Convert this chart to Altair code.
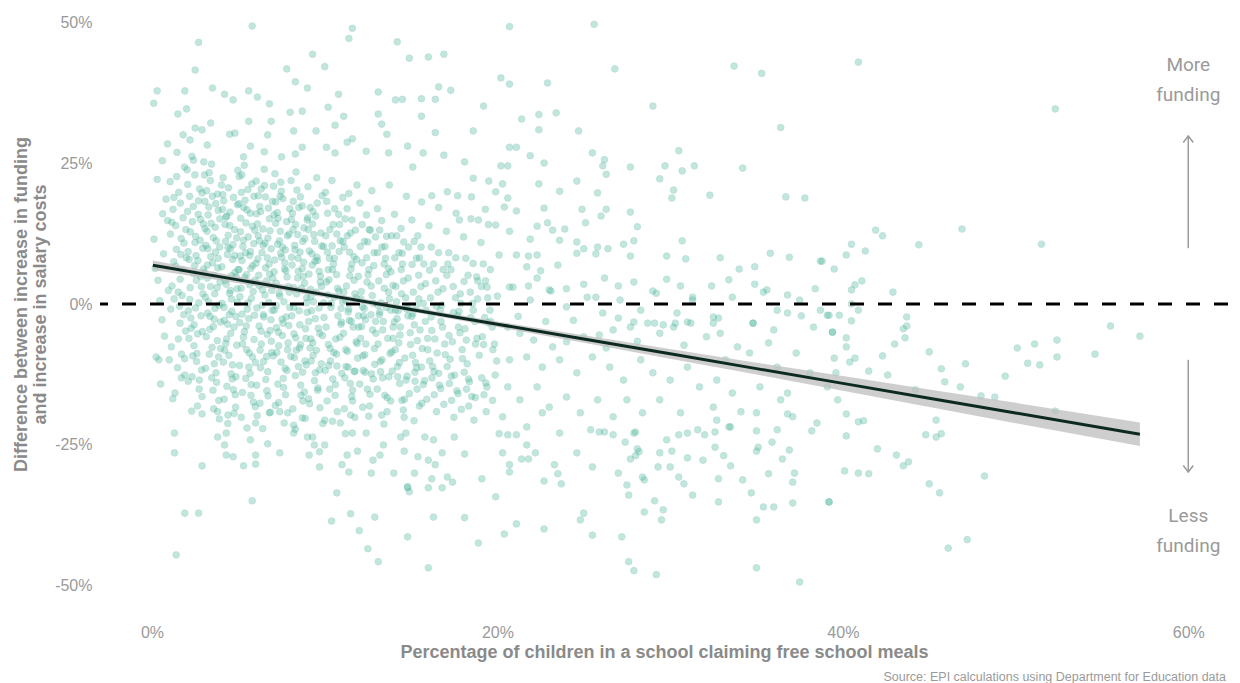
import altair as alt
import pandas as pd

# ---------------- data (percent units) ----------------
upper_points = [
    (5.8,49.3),(11.6,48.9),(11.4,47.1),(2.7,46.4),(14.2,46.5),(14.9,43.6),(9.3,44.3),(10.0,42.1),(7.8,41.7),
    (2.5,41.5),(8.3,39.4),(0.3,37.8),(0.1,35.6),(1.9,37.8),(3.5,38.3),(9.0,38.3),(4.2,37.2),(4.7,36.2),
    (5.6,37.8),(6.1,36.7),(10.8,37.2),(13.1,37.6),(14.1,36.2),(14.5,36.3),(6.8,35.5),(10.2,34.9),(8.0,34.0),
    (8.7,34.2),(11.1,33.3),(1.5,33.7),(2.0,34.6),(3.4,32.1),(5.6,32.4),(6.9,32.4),(13.1,33.7),(13.3,31.9),
    (2.5,31.2),(2.9,30.9),(4.5,30.1),(4.8,30.3),(6.7,30.0),(8.2,30.7),(9.5,30.7),(10.6,31.7),(13.6,30.1),
    (0.9,28.4),(1.8,30.0),(2.2,29.1),(3.2,28.2),(5.7,28.0),(6.5,27.0),(8.3,26.6),(8.7,27.8),(11.3,28.7),
    (11.6,29.3),(12.4,27.1),(13.7,26.8),(14.8,28.0),(10.1,27.8),(10.6,26.8),(0.6,25.4),(2.4,25.5),(3.0,25.2),
    (5.3,26.1),(7.5,26.1),
    (20.7,49.2),(25.6,49.6),(16.0,43.8),(16.9,44.3),(26.8,41.7),(33.7,42.2),(35.3,40.9),(20.2,40.1),
    (20.7,39.0),(22.9,39.2),(16.6,38.5),(17.3,37.9),(15.6,36.4),(16.4,36.3),(19.2,35.1),(29.0,35.1),
    (23.4,33.9),(22.4,33.6),(21.4,32.8),(15.6,33.3),(36.4,31.3),(16.4,30.4),(18.6,30.7),(22.4,30.9),
    (24.7,30.7),(20.7,27.8),(21.1,27.8),(30.5,27.2),(25.5,26.8),(21.9,26.3),(26.2,25.6),(15.7,26.8),
    (16.9,26.4),(18.1,25.2),(22.7,25.0),(40.9,42.9),(52.3,34.6),
]

middle_upper_points = [
    (26.1,24.5),(27.7,24.3),(29.7,24.5),(31.4,24.5),(34.2,24.1),(20.2,24.5),(20.6,24.5),(15.1,24.3),(26.3,23.0),
    (30.7,23.6),(29.4,22.2),(24.6,21.8),(22.4,21.3),(19.5,21.8),(18.6,22.3),(20.3,21.3),(30.2,20.2),(30.1,18.8),
    (32.3,19.3),(36.7,19.0),(37.8,18.8),(25.8,19.7),(23.6,20.0),(19.9,19.9),(17.1,19.9),(17.7,19.2),(18.5,19.0),
    (16.2,19.2),(20.6,18.8),(24.9,16.8),(26.3,16.8),(26.0,15.6),(22.7,17.0),(21.1,16.5),(20.4,17.2),(19.3,16.8),
    (27.7,16.3),(28.1,13.7),(30.7,11.2),(25.1,14.4),(22.9,14.4),(22.3,13.8),(23.2,13.1),(23.9,13.3),(23.6,11.3),
    (21.9,11.5),(20.7,12.9),(19.9,14.0),(17.8,14.9),(18.9,14.9),(24.6,11.0),(25.0,9.8),(25.8,10.1),(26.4,9.8),
    (27.3,10.6),(27.9,11.2),(27.7,8.5),(24.6,9.0),(25.7,8.9),(21.1,8.7),(21.8,8.5),(22.3,8.7),(20.1,8.7),
    (29.8,8.5),(30.9,8.0),(32.9,8.2),(35.8,9.0),(36.9,8.3),(38.7,7.6),(39.5,6.2),(34.0,6.2),(34.9,6.6),
    (33.4,4.3),(32.4,3.2),(34.9,3.5),(35.4,2.1),(36.8,1.6),(38.4,2.7),(29.8,4.4),(29.0,2.3),(30.6,3.2),
    (31.3,1.2),(27.9,3.9),(27.0,3.2),(26.2,4.6),(25.0,3.5),(24.0,2.7),(25.7,1.2),(23.1,2.3),(23.5,6.9),
    (22.5,5.9),(21.7,6.6),(22.3,4.6),(21.8,3.2),(20.7,3.0),(20.0,1.4),(18.8,4.8),(19.4,3.0),
    (36.2,-1.1),(37.6,-2.1),(39.1,-2.0),(34.8,-3.4),(32.5,-3.4),(32.8,-2.5),(31.0,-3.2),(30.3,-3.4),(29.6,-3.7),
    (29.1,-3.4),(27.9,-3.2),(27.0,-2.5),
]

middle_lower_points = [
    (20.6,-4.1),(21.3,-5.2),(22.1,-6.4),(23.2,-7.6),(24.0,-6.7),(25.0,-5.8),(25.9,-5.5),(26.7,-4.6),(27.7,-4.1),
    (28.7,-3.4),(29.4,-5.2),(30.2,-4.1),(31.2,-3.4),(32.1,-5.8),(32.9,-5.2),(33.9,-7.6),(34.8,-3.4),(36.0,-4.6),
    (37.3,-8.7),(38.3,-4.1),(39.4,-5.0),(20.7,-9.9),(21.7,-9.4),(22.6,-11.2),(23.6,-9.9),(24.6,-12.2),
    (25.5,-9.4),(26.5,-11.2),(27.3,-13.5),(28.3,-9.9),(29.0,-12.2),(30.0,-13.5),(31.0,-11.2),(31.7,-14.7),
    (32.7,-13.5),(33.6,-15.8),(34.6,-8.7),(35.2,-14.7),(36.2,-11.2),(36.8,-15.8),(38.1,-12.2),(39.1,-14.7),
    (39.7,-17.0),(20.6,-14.7),(21.3,-17.0),(22.3,-14.7),(23.0,-18.3),(24.0,-16.5),(24.8,-19.3),(25.8,-17.0),
    (26.7,-20.0),(27.5,-17.0),(28.4,-19.3),(29.4,-17.0),(30.6,-19.3),(31.6,-22.3),(32.5,-18.3),(33.5,-21.8),
    (35.0,-19.3),(36.4,-17.0),(37.1,-20.0),(20.3,-20.0),(21.7,-21.8),(22.6,-19.3),(23.6,-22.9),(25.4,-22.3),
    (27.9,-22.9),(29.8,-24.1),
    (20.9,3.0),(21.9,0.7),(23.0,2.5),(24.0,-0.5),(25.2,1.2),(26.1,-1.6),(27.1,0.7),(28.3,-1.1),(29.2,1.9),
    (30.4,-1.6),(31.3,0.7),(32.5,-2.3),(33.6,1.2),(35.6,2.5),(36.8,-1.6),(37.5,0.7),(38.7,-1.1),
    (21.2,-2.2),(22.8,-3.1),(24.4,-2.9),(26.3,-7.8),(28.1,-6.6),(30.8,-7.3),(33.2,-9.9),(35.7,-6.9),
]

right_points = [
    (41.9,13.1),(42.3,12.1),(46.9,13.3),(44.4,10.5),(51.5,10.6),(40.5,10.6),(40.2,8.7),(41.3,9.4),(38.8,7.6),
    (41.1,4.1),(40.7,3.4),(40.5,2.5),(42.9,2.1),(40.5,0.0),(40.9,-1.1),(39.2,-2.0),(39.8,-2.0),(40.5,-3.0),
    (43.7,-2.3),(43.7,-3.9),(55.5,-3.9),(39.4,-5.0),(40.2,-6.0),(40.2,-7.6),(39.5,-9.6),(40.4,-10.3),(40.7,-9.6),
    (39.6,-12.2),(41.5,-11.9),(42.3,-9.2),(43.0,-7.1),(43.5,-4.4),(43.6,-6.0),(42.6,-12.6),(45.0,-8.5),
    (45.7,-11.5),(47.1,-10.6),(45.9,-13.8),(46.8,-14.7),(44.2,-15.2),(48.0,-16.3),(48.8,-16.5),(49.4,-12.8),
    (50.1,-7.8),(51.1,-7.1),(50.7,-10.5),(51.4,-10.8),(52.4,-6.4),(52.4,-9.4),(54.6,-8.9),(57.2,-5.7),
    (52.3,-19.0),(40.2,-19.5),(40.9,-20.9),(41.2,-20.7),(40.2,-23.4),(42.0,-25.7),(45.4,-20.6),(44.8,-23.2),
    (45.4,-23.6),(45.7,-23.0),(43.1,-26.8),(43.8,-28.0),(43.5,-28.7),(40.1,-29.6),(40.9,-30.0),(41.5,-30.1),
    (45.0,-31.9),(45.6,-33.5),(48.2,-30.5),(39.2,-35.1),(47.2,-41.8),(46.1,-43.3),
]

lower_points = [
    (14.8,-41.3),(16.0,-46.8),(18.9,-42.4),(20.4,-40.8),(21.1,-39.0),(22.7,-39.9),(18.1,-37.9),(16.3,-37.8),
    (19.9,-34.2),(25.5,-41.0),(27.2,-41.3),(25.0,-37.1),(24.8,-38.3),(27.6,-45.7),(27.9,-47.3),(29.2,-48.0),
    (28.5,-36.9),(29.1,-34.9),(29.6,-36.5),(29.5,-38.3),(27.6,-33.9),(27.5,-32.1),(27.0,-30.0),(28.5,-31.2),
    (28.4,-30.7),(31.3,-33.9),(30.8,-31.9),(30.5,-30.7),(32.8,-35.1),(35.0,-38.3),(35.0,-46.8),(37.5,-49.3),
    (34.7,-33.5),(35.4,-36.0),(36.0,-36.0),(37.1,-35.3),(39.2,-35.1),(35.7,-30.1),(34.2,-31.2),(33.5,-28.7),
    (32.8,-31.0),(37.2,-30.0),(37.1,-31.6),(36.5,-27.5),(36.9,-25.9),(35.0,-26.1),(35.1,-25.4),(35.9,-24.5),
    (36.2,-22.3),(35.0,-22.5),(38.2,-22.5),(38.5,-21.1),(36.8,-19.5),(34.1,-19.1),(33.4,-21.8),(32.7,-20.6),
    (32.6,-22.7),(32.0,-23.2),(31.0,-22.9),(30.5,-23.2),(33.1,-26.9),(32.6,-25.4),(31.9,-27.7),(31.0,-27.3),
    (30.1,-26.1),(29.4,-26.4),(30.0,-28.9),(29.3,-28.9),(28.0,-26.9),(27.7,-27.5),(28.2,-26.2),(28.1,-25.7),
    (28.0,-22.7),(27.4,-24.5),(26.7,-23.2),(26.2,-22.7),(25.9,-22.7),(25.5,-28.9),(24.6,-26.4),(23.7,-31.9),
    (23.3,-28.5),(23.5,-30.1),(22.7,-31.4),(22.2,-26.4),(21.8,-27.5),(21.4,-27.5),(20.7,-29.8),(20.7,-28.5),
    (19.1,-31.0),(20.3,-26.4),(20.1,-23.0),(20.6,-23.2),(21.1,-23.2),(21.7,-25.0),(18.1,-26.6),(17.4,-31.6),
    (17.1,-30.7),(16.8,-32.6),(16.0,-32.6),(16.2,-31.0),(15.2,-30.0),(14.8,-32.6),(14.9,-33.3),(15.4,-27.1),
    (16.0,-27.7),(16.4,-28.5),(16.8,-26.4),(14.6,-26.1),(17.5,-23.6),(16.3,-24.1),(15.8,-23.6),
    (1.4,-44.5),(1.9,-37.1),(2.7,-37.1),(5.8,-34.9),(10.7,-33.5),(10.4,-38.5),(11.5,-37.2),(12.0,-40.2),
    (12.9,-37.8),(12.5,-43.4),(13.1,-45.7),(14.8,-32.4),(1.3,-22.9),(1.3,-26.4),(1.2,-16.8),(2.9,-28.7),
    (5.3,-28.7),(6.0,-28.4),(4.3,-26.8),(4.7,-27.1),(6.0,-26.8),(7.4,-26.4),(6.7,-24.8),(5.7,-24.1),(4.2,-25.0),
    (3.8,-23.6),(4.3,-22.9),(9.7,-28.9),(9.1,-26.8),(9.7,-26.2),(10.0,-25.0),(11.0,-28.5),(11.4,-29.8),
    (11.3,-26.8),(11.9,-26.1),(12.7,-30.0),(14.0,-30.0),(12.8,-27.7),(13.2,-26.8),(13.4,-25.0),(11.2,-23.0),
    (11.6,-22.9),(12.4,-22.9),(14.4,-23.6),(14.7,-22.9),(9.4,-25.0),(8.2,-22.9),(8.3,-22.2),(9.0,-23.6),
    (9.3,-23.6),(0.4,-9.9),(1.0,-9.9),(2.1,-13.7),(1.7,-13.1),(2.3,-19.0),(2.9,-19.5),(3.8,-19.1),(4.4,-19.7),
    (5.5,-22.0),(6.0,-21.1),(6.8,-19.3),(7.4,-19.1),(8.2,-21.5),(8.7,-20.2),(10.0,-20.6),(10.9,-21.1),
    (11.5,-19.7),(12.2,-18.3),(13.3,-19.7),
]

core_points = [
    (0.12,11.5),(0.35,4.2),(0.58,-2.8),(0.81,18.6),(0.24,-9.4),(0.67,8.9),(0.45,0.6),(0.9,14.8),(0.3,22.1),
    (0.72,-5.7),(0.5,-14.2),(0.18,6.3),(0.95,2.4),(0.62,16.0),
    (1.05,21.7),(1.22,16.8),(1.41,9.7),(1.63,4.4),(1.84,-1.9),(1.12,-7.6),(1.37,13.9),(1.55,19.8),(1.76,6.1),
    (1.95,-4.8),(1.28,0.9),(1.48,-11.3),(1.69,11.6),(1.88,24.3),(1.16,3.2),(1.33,-15.8),(1.59,-0.4),(1.8,15.3),
    (1.99,8.2),(1.45,26.9),(1.07,12.4),(1.71,-8.9),(1.26,7.5),(1.9,-12.6),(1.52,2.1),(1.64,17.9),
    (2.03,23.8),(2.18,19.1),(2.34,14.6),(2.49,10.9),(2.66,7.7),(2.82,4.9),(2.95,1.8),(2.11,-1.2),(2.27,-4.3),
    (2.43,-7.4),(2.58,-10.2),(2.74,-13.5),(2.9,-16.4),(2.07,21.2),(2.22,12.8),(2.39,17.3),(2.55,8.6),(2.71,0.2),
    (2.86,3.1),(2.14,-6.1),(2.31,26.2),(2.47,6.8),(2.63,-18.1),(2.79,11.3),(2.97,14.2),(2.25,-2.5),(2.41,5.4),
    (2.6,-8.8),(2.76,20.4),(2.92,-4.9),(2.09,9.3),(2.52,-0.7),(2.68,15.9),(2.87,-11.7),
    (3.04,22.9),(3.16,20.1),(3.29,17.2),(3.42,14.3),(3.55,11.8),(3.68,9.2),(3.81,6.4),(3.94,3.9),(3.09,1.2),
    (3.22,-1.6),(3.35,-4.5),(3.48,-7.7),(3.61,-10.6),(3.74,-13.9),(3.87,-17.1),(3.12,10.4),(3.25,15.8),
    (3.38,21.9),(3.51,7.3),(3.64,-0.8),(3.77,2.9),(3.9,-20.4),(3.06,18.2),(3.19,12.9),(3.32,-8.9),(3.45,24.8),
    (3.58,5.1),(3.71,-12.2),(3.84,16.6),(3.97,-3.2),(3.14,-5.8),(3.27,0.4),(3.4,8.4),(3.53,-15.3),(3.66,13.6),
    (3.79,19.5),(3.92,10.1),(3.2,4.6),(3.6,-2.7),(3.86,-9.4),
    (4.02,21.1),(4.15,18.3),(4.28,15.4),(4.41,12.2),(4.54,9.8),(4.67,7.9),(4.8,5.6),(4.93,2.7),(4.06,0.1),
    (4.19,-2.9),(4.32,-6.2),(4.45,-9.1),(4.58,-12.4),(4.71,-15.2),(4.84,-18.3),(4.97,23.7),(4.1,19.4),
    (4.23,14.1),(4.36,8.8),(4.49,1.9),(4.62,-1.3),(4.75,-4.1),(4.88,4.8),(4.13,-10.3),(4.26,11.1),(4.39,-21.2),
    (4.52,16.3),(4.65,-13.3),(4.78,13.2),(4.91,-7.3),(4.04,6.6),(4.17,-0.6),(4.3,3.5),(4.43,20.6),(4.56,-5.2),
    (4.69,10.5),(4.82,-16.1),(4.95,17.6),(4.21,-8.2),(4.6,0.9),(4.85,-2.2),(4.34,-14.6),
    (5.05,22.6),(5.18,19.8),(5.31,17.1),(5.44,14.4),(5.57,11.9),(5.7,9.3),(5.83,6.8),(5.96,4.2),(5.09,1.3),
    (5.22,-1.8),(5.35,-4.9),(5.48,-8.1),(5.61,-11.2),(5.74,-14.3),(5.87,-17.4),(5.13,15.2),(5.26,10.2),
    (5.39,18.4),(5.52,-0.9),(5.65,3.4),(5.78,21.3),(5.91,-6.3),(5.04,6.1),(5.17,-20.1),(5.3,11.3),(5.43,-13.2),
    (5.56,0.2),(5.69,16.1),(5.82,-9.4),(5.95,13.1),(5.08,-3.3),(5.21,7.7),(5.34,24.6),(5.47,5.2),(5.6,-2.6),
    (5.73,-16.2),(5.86,2.2),(5.99,-10.4),(5.25,-7.1),(5.66,8.6),(5.12,12.8),(5.9,19.1),
    (6.03,21.8),(6.16,19.2),(6.29,16.4),(6.42,13.3),(6.55,10.8),(6.68,8.2),(6.81,5.3),(6.94,2.4),(6.07,-0.7),
    (6.2,-3.9),(6.33,-7.1),(6.46,-10.2),(6.59,-13.4),(6.72,-16.3),(6.85,-19.2),(6.11,14.2),(6.24,17.3),
    (6.37,9.1),(6.5,23.9),(6.63,4.1),(6.76,0.3),(6.89,-2.8),(6.02,7.2),(6.15,12.1),(6.28,-11.3),(6.41,-22.1),
    (6.54,1.6),(6.67,-5.4),(6.8,15.1),(6.93,-8.6),(6.06,-14.4),(6.19,3.3),(6.32,20.4),(6.45,-1.9),(6.58,6.4),
    (6.71,11.7),(6.84,-4.7),(6.97,18.2),(6.25,-17.6),(6.64,-9.3),(6.9,9.8),(6.38,-0.2),
    (7.04,20.9),(7.17,18.1),(7.3,15.2),(7.43,12.9),(7.56,10.1),(7.69,7.3),(7.82,4.8),(7.95,2.1),(7.08,-1.1),
    (7.21,-4.2),(7.34,-7.4),(7.47,-10.3),(7.6,-13.2),(7.73,-16.1),(7.86,-19.3),(7.12,23.1),(7.25,16.2),
    (7.38,11.2),(7.51,8.3),(7.64,0.4),(7.77,-2.3),(7.9,3.1),(7.03,-9.2),(7.16,14.3),(7.29,-14.2),(7.42,19.1),
    (7.55,-5.6),(7.68,6.2),(7.81,-11.8),(7.94,12.4),(7.07,5.7),(7.2,-0.3),(7.33,-17.5),(7.46,21.6),(7.59,-3.4),
    (7.72,9.6),(7.85,-8.1),(7.98,16.9),(7.4,1.4),(7.65,-21.1),
    (8.05,21.9),(8.18,18.2),(8.31,14.1),(8.44,12.3),(8.57,9.2),(8.7,6.3),(8.83,3.7),(8.96,1.1),(8.09,-2.1),
    (8.22,-5.3),(8.35,-8.2),(8.48,-11.1),(8.61,-14.4),(8.74,-17.2),(8.87,-20.3),(8.13,16.1),(8.26,10.4),
    (8.39,20.2),(8.52,-1.2),(8.65,2.8),(8.78,7.4),(8.91,-6.1),(8.04,-9.3),(8.17,13.2),(8.3,-12.7),(8.43,4.6),
    (8.56,-3.7),(8.69,17.4),(8.82,-15.6),(8.95,0.2),(8.08,8.3),(8.21,-0.6),(8.34,23.4),(8.47,5.8),(8.6,-7.2),
    (8.73,11.1),(8.86,-10.1),(8.99,14.9),
    (9.03,20.8),(9.16,17.1),(9.29,14.2),(9.42,11.1),(9.55,8.3),(9.68,5.8),(9.81,3.1),(9.94,0.2),(9.07,-3.1),
    (9.2,-6.2),(9.33,-9.1),(9.46,-12.2),(9.59,-15.3),(9.72,-18.4),(9.85,19.2),(9.11,9.4),(9.24,-1.2),(9.37,12.3),
    (9.5,2.1),(9.63,-4.3),(9.76,4.9),(9.89,-21.2),(9.02,15.3),(9.15,-7.8),(9.28,6.9),(9.41,-13.6),(9.54,22.4),
    (9.67,-0.7),(9.8,-10.6),(9.93,10.2),(9.06,-16.8),(9.19,1.3),(9.32,16.4),(9.45,-2.6),(9.58,7.7),(9.71,-5.2),
    (10.04,19.8),(10.17,16.1),(10.3,13.2),(10.43,10.3),(10.56,8.1),(10.69,5.2),(10.82,2.3),(10.95,-0.8),
    (10.08,-4.1),(10.21,-7.2),(10.34,-10.1),(10.47,-13.3),(10.6,-16.2),(10.73,-19.1),(10.86,14.1),(10.12,18.2),
    (10.25,4.3),(10.38,0.1),(10.51,7.1),(10.64,-6.2),(10.77,-2.1),(10.9,11.2),(10.03,-11.8),(10.16,9.2),
    (10.29,-15.1),(10.42,21.9),(10.55,1.2),(10.68,-8.9),(10.81,15.9),(10.94,-3.6),(10.2,6.1),(10.45,-20.8),
    (10.7,12.4),(10.99,-12.3),
    (11.05,18.9),(11.18,15.1),(11.31,12.1),(11.44,9.2),(11.57,7.1),(11.7,4.2),(11.83,1.1),(11.96,-2.1),
    (11.09,-5.2),(11.22,-8.1),(11.35,-11.2),(11.48,-14.1),(11.61,-17.2),(11.74,-20.1),(11.87,21.1),(11.13,10.1),
    (11.26,3.2),(11.39,-0.9),(11.52,6.2),(11.65,-4.1),(11.78,13.1),(11.91,-9.6),(11.04,0.4),(11.17,-13.1),
    (11.3,16.9),(11.43,-2.9),(11.56,-16.4),(11.69,8.4),(11.82,-6.7),(11.95,4.9),(11.4,19.6),(11.75,-11.9),
    (12.04,17.9),(12.17,14.1),(12.3,11.1),(12.43,8.2),(12.56,6.1),(12.69,3.2),(12.82,0.1),(12.95,-3.1),
    (12.08,-6.1),(12.21,-9.2),(12.34,-12.1),(12.47,-15.1),(12.6,-18.1),(12.73,20.1),(12.86,9.1),(12.12,2.2),
    (12.25,-2.1),(12.38,-7.1),(12.51,5.2),(12.64,13.1),(12.77,-4.6),(12.9,-10.7),(12.03,-14.2),(12.16,7.3),
    (12.29,-0.8),(12.42,15.8),(12.55,-19.9),(12.68,-1.9),(12.81,-13.3),(12.94,11.9),
    (13.05,16.9),(13.18,13.1),(13.31,10.1),(13.44,7.1),(13.57,5.2),(13.7,2.1),(13.83,-1.1),(13.96,-4.1),
    (13.09,-7.1),(13.22,-10.2),(13.35,-13.1),(13.48,-16.2),(13.61,-19.1),(13.74,21.1),(13.87,12.1),(13.13,4.1),
    (13.26,0.2),(13.39,-3.1),(13.52,8.1),(13.65,-6.1),(13.78,-8.8),(13.91,-11.9),(13.04,-15.1),(13.17,-1.9),
    (13.3,14.8),(13.43,-21.3),(13.56,-0.6),(13.69,6.3),(13.82,-17.2),(13.95,3.3),
    (14.04,15.9),(14.17,12.1),(14.3,9.1),(14.43,6.1),(14.56,4.1),(14.69,1.1),(14.82,-2.1),(14.95,-5.1),
    (14.08,-8.1),(14.21,-11.1),(14.34,-14.1),(14.47,-17.1),(14.6,-20.1),(14.73,19.1),(14.86,10.1),(14.12,3.1),
    (14.25,-1.2),(14.38,-4.1),(14.51,7.1),(14.64,-9.6),(14.77,-12.8),(14.9,-15.9),(14.03,-3.2),(14.16,0.4),
    (14.29,-6.9),(14.42,13.4),(14.55,-18.8),(14.81,-0.4),
    (15.05,14.9),(15.18,11.1),(15.31,8.1),(15.44,5.1),(15.57,3.1),(15.7,0.1),(15.83,-3.1),(15.96,-6.1),
    (15.09,-9.1),(15.22,-12.1),(15.35,-15.1),(15.48,-18.1),(15.61,18.1),(15.74,7.1),(15.87,-1.1),(15.13,2.1),
    (15.26,-10.4),(15.39,12.1),(15.52,-4.6),(15.65,-7.9),(15.78,-13.6),(15.91,-16.9),(15.04,-2.2),(15.17,-20.7),
    (15.3,-0.3),(15.6,-11.2),
    (16.04,13.9),(16.17,10.1),(16.3,7.1),(16.43,4.1),(16.56,2.1),(16.69,-1.1),(16.82,-4.1),(16.95,-7.1),
    (16.08,-10.1),(16.21,-13.1),(16.34,-16.1),(16.47,-19.1),(16.6,17.1),(16.73,-3.1),(16.86,6.1),(16.12,1.1),
    (16.25,-11.1),(16.38,-6.2),(16.51,-8.7),(16.64,-14.4),(16.77,-0.2),(16.9,-17.8),(16.16,-2.3),(16.6,-12.3),
    (17.05,12.9),(17.18,9.1),(17.31,6.1),(17.44,3.1),(17.57,1.1),(17.7,-2.1),(17.83,-5.1),(17.96,-8.1),
    (17.09,-11.1),(17.22,-14.1),(17.35,-17.1),(17.48,-20.1),(17.61,16.1),(17.74,-4.1),(17.87,0.1),(17.13,7.1),
    (17.26,-9.8),(17.39,-6.7),(17.52,-12.6),(17.65,-15.4),(17.78,-1.3),(17.91,-18.7),
    (18.04,11.9),(18.17,8.1),(18.3,5.1),(18.43,2.1),(18.56,0.1),(18.69,-3.1),(18.82,-6.1),(18.95,-9.1),
    (18.08,-12.1),(18.21,-15.1),(18.34,-18.1),(18.47,15.1),(18.6,-1.1),(18.73,-7.1),(18.86,4.1),(18.12,-4.4),
    (18.25,-10.6),(18.38,-13.8),(18.51,-16.4),(18.64,-20.6),
    (19.05,10.9),(19.18,7.1),(19.31,4.1),(19.44,1.1),(19.57,-1.1),(19.7,-4.1),(19.83,-7.1),(19.96,-10.1),
    (19.09,-13.1),(19.22,-16.1),(19.35,-19.1),(19.48,14.1),(19.61,-3.1),(19.74,-8.1),(19.87,-12.6),(19.13,-5.8),
    (19.26,-2.4),(19.39,-14.7),
]

core_points_dense = [
    (1.15,14.5),(1.38,6.7),(1.62,-3.4),(1.85,10.8),(1.27,18.9),(1.53,-6.2),(1.74,1.5),(1.96,13.2),(1.09,-0.9),
    (1.43,22.6),(1.67,8.8),(1.89,-9.7),
    (2.06,16.4),(2.21,2.9),(2.36,-9.2),(2.53,12.0),(2.69,18.3),(2.84,-2.1),(2.99,6.2),(2.15,7.9),(2.32,-12.9),
    (2.48,22.9),(2.64,-5.3),(2.8,15.0),(2.94,9.9),(2.19,0.8),(2.57,4.2),(2.73,-15.1),(2.9,19.7),(2.44,-3.7),
    (3.07,13.4),(3.21,6.9),(3.36,-2.2),(3.5,19.1),(3.63,1.8),(3.78,-6.5),(3.93,15.1),(3.1,-11.4),(3.24,9.8),
    (3.39,3.1),(3.57,-18.6),(3.72,11.2),(3.88,-0.2),(3.03,5.6),(3.31,23.3),(3.46,-13.1),(3.69,17.8),(3.83,8.1),
    (3.97,-7.9),(3.55,-4.0),
    (4.08,16.8),(4.24,4.2),(4.38,-3.6),(4.51,13.9),(4.66,-10.8),(4.79,8.6),(4.94,0.3),(4.12,22.4),(4.27,-7.0),
    (4.4,10.0),(4.55,2.4),(4.72,18.9),(4.86,-12.9),(4.99,6.1),(4.18,-16.9),(4.33,15.6),(4.47,-1.9),(4.61,5.0),
    (4.76,-19.4),(4.9,11.7),
    (5.03,17.8),(5.16,2.8),(5.29,-5.9),(5.42,9.1),(5.55,20.3),(5.68,-12.3),(5.81,13.8),(5.94,-2.0),(5.11,8.5),
    (5.24,-15.7),(5.37,4.7),(5.5,16.7),(5.63,-8.7),(5.76,1.0),(5.89,10.7),(5.07,-10.9),(5.2,22.9),(5.46,-3.9),
    (5.72,6.3),(5.98,-18.2),
    (6.05,16.0),(6.18,5.1),(6.31,-4.8),(6.44,10.4),(6.57,19.0),(6.7,-12.0),(6.83,13.0),(6.96,-1.1),(6.13,8.0),
    (6.26,-8.2),(6.39,2.5),(6.52,21.0),(6.65,-15.4),(6.78,7.1),(6.91,-6.6),(6.09,-19.8),(6.22,11.2),(6.48,-2.3),
    (6.74,17.0),(6.99,4.6),
    (7.06,15.8),(7.19,3.7),(7.32,-5.0),(7.45,9.0),(7.58,18.7),(7.71,-11.4),(7.84,12.1),(7.97,-0.6),(7.1,7.8),
    (7.23,-8.6),(7.36,1.9),(7.49,20.0),(7.62,-14.8),(7.75,5.9),(7.88,-6.9),(7.14,-18.0),(7.27,10.6),(7.53,-2.7),
    (7.79,14.6),(7.92,-3.8),
    (8.07,15.0),(8.2,2.9),(8.33,-6.0),(8.46,8.1),(8.59,19.0),(8.72,-12.1),(8.85,11.6),(8.98,-1.5),(8.11,6.9),
    (8.24,-9.5),(8.37,1.8),(8.5,17.1),(8.63,-16.2),(8.76,4.9),(8.89,-4.4),(8.15,-18.6),(8.28,9.6),(8.54,-7.8),
    (8.8,13.5),(8.93,-10.8),
    (9.05,13.2),(9.18,2.6),(9.31,-6.9),(9.44,7.6),(9.57,17.9),(9.7,-11.7),(9.83,10.3),(9.96,-2.4),(9.09,5.3),
    (9.22,-10.1),(9.35,0.4),(9.48,15.6),(9.61,-14.9),(9.74,3.9),(9.87,-5.6),(9.13,-17.7),(9.26,8.9),(9.52,-8.2),
    (9.78,12.6),
    (10.06,12.1),(10.19,1.6),(10.32,-7.9),(10.45,6.1),(10.58,16.9),(10.71,-11.0),(10.84,9.3),(10.97,-3.2),
    (10.1,3.9),(10.23,-10.9),(10.36,-0.6),(10.49,14.1),(10.62,-14.3),(10.75,2.8),(10.88,-5.9),(10.14,-17.2),
    (10.27,8.1),(10.53,-8.6),
    (11.06,11.1),(11.19,0.7),(11.32,-8.4),(11.45,5.0),(11.58,14.9),(11.71,-12.0),(11.84,7.9),(11.97,-4.1),
    (11.1,2.1),(11.23,-11.1),(11.36,-1.4),(11.49,12.6),(11.62,-15.3),(11.75,1.8),(11.88,-7.0),(11.14,-18.6),
    (11.54,-3.1),
    (12.06,10.2),(12.19,-0.5),(12.32,-9.0),(12.45,3.9),(12.58,13.2),(12.71,-12.4),(12.84,6.8),(12.97,-5.2),
    (12.1,0.9),(12.23,-11.8),(12.36,-2.8),(12.49,11.0),(12.62,-16.0),(12.75,1.5),(12.88,-7.9),(12.14,-4.0),
    (13.06,9.1),(13.19,-1.4),(13.32,-9.9),(13.45,2.8),(13.58,12.0),(13.71,-12.9),(13.84,5.7),(13.97,-6.1),
    (13.1,-0.3),(13.23,-12.0),(13.36,-4.6),(13.49,10.2),(13.62,-16.6),(13.75,0.9),(13.88,-8.5),
    (14.06,8.2),(14.19,-2.6),(14.32,-10.4),(14.45,1.8),(14.58,11.0),(14.71,-13.5),(14.84,4.6),(14.97,-7.2),
    (14.1,-1.1),(14.23,-12.9),(14.36,-5.5),(14.49,9.0),(14.62,-16.9),(14.75,-0.9),
    (15.06,7.0),(15.19,-3.7),(15.32,-11.3),(15.45,0.9),(15.58,10.1),(15.71,-14.3),(15.84,3.6),(15.97,-8.1),
    (15.1,-1.7),(15.23,-13.7),(15.36,-6.5),(15.49,8.2),(15.62,-17.6),
    (16.07,6.0),(16.2,-4.7),(16.33,-12.0),(16.46,-0.4),(16.59,9.1),(16.72,-15.0),(16.85,2.7),(16.98,-9.0),
    (17.07,5.1),(17.2,-5.6),(17.33,-12.8),(17.46,-1.5),(17.59,8.2),(17.72,-15.9),(17.85,1.8),(17.98,-9.7),
    (18.07,4.0),(18.2,-6.4),(18.33,-13.3),(18.46,-2.4),(18.59,7.2),(18.72,-16.6),(18.85,0.9),
    (19.07,3.1),(19.2,-7.2),(19.33,-14.0),(19.46,-3.3),(19.59,6.1),(19.72,-17.1),
]

# fitted line and its confidence band
fit_x = [0.05, 5, 10, 15, 20, 25, 30, 35, 40, 45, 50, 57.2]
fit_y = [6.87, 4.28, 1.66, -0.97, -3.59, -6.21, -8.84, -11.46, -14.08, -16.70, -19.33, -23.10]
fit_lo = [6.02, 3.68, 1.21, -1.39, -4.09, -6.86, -9.69, -12.51, -15.38, -18.25, -21.13, -25.20]
fit_hi = [7.72, 4.88, 2.11, -0.55, -3.09, -5.56, -7.99, -10.41, -12.78, -15.15, -17.53, -21.00]

x_ticks = [0, 20, 40, 60]
y_ticks = [-50, -25, 0, 25, 50]

note_x = [60, 60, 60, 60]
note_y = [42.4, 37.1, -37.6, -42.9]
note_text = ["More", "funding", "Less", "funding"]

arrow_x = [60, 60]
arrow_from = [9.9, -9.9]
arrow_to = [29.8, -29.8]

source_text = "Source: EPI calculations using Department for Education data"

# ---------------- chart ----------------
GREY = "#9a9a9a"
TEAL = "#4cb89e"

all_points = (upper_points + middle_upper_points + middle_lower_points + right_points
              + lower_points + core_points + core_points_dense)
pts = pd.DataFrame(all_points, columns=["x", "y"])

xscale = alt.Scale(domain=[-3.01, 62.3], nice=False, zero=False)
yscale = alt.Scale(domain=[-52.5, 52.5], nice=False, zero=False)

x_axis = alt.Axis(values=x_ticks, labelExpr="datum.value + '%'",
                  title="Percentage of children in a school claiming free school meals",
                  labelPadding=24, titlePadding=3)
y_axis = alt.Axis(values=y_ticks, labelExpr="datum.value + '%'",
                  title=["Difference between increase in funding", "and increase in salary costs"],
                  labelPadding=8, titlePadding=5, titleLineHeight=19)

X = alt.X("x:Q", scale=xscale, axis=x_axis)
Y = alt.Y("y:Q", scale=yscale, axis=y_axis)

points = alt.Chart(pts).mark_circle(size=44, color=TEAL, opacity=0.34, stroke="#2f9e84",
                                    strokeWidth=0.8).encode(x=X, y=Y)

zero_df = pd.DataFrame({"y": [0]})
zero_line = alt.Chart(zero_df).mark_rule(color="black", strokeWidth=3, strokeDash=[14, 14]).encode(y=Y)

fit_df = pd.DataFrame({"x": fit_x, "y": fit_y, "lo": fit_lo, "hi": fit_hi})
band = alt.Chart(fit_df).mark_area(color="#bdbdbd", opacity=0.75).encode(
    x=X, y=alt.Y("lo:Q", scale=yscale, axis=y_axis), y2="hi:Q",
)
fit_line = alt.Chart(fit_df).mark_line(color="#0c2a21", strokeWidth=3).encode(x=X, y=Y)

notes_df = pd.DataFrame({"x": note_x, "y": note_y, "t": note_text})
notes = alt.Chart(notes_df).mark_text(font="Roboto", fontSize=19, color=GREY, align="center",
                                      baseline="middle").encode(x=X, y=Y, text="t:N")

arrows_df = pd.DataFrame({"x": arrow_x, "y": arrow_from, "y2": arrow_to})
shafts = alt.Chart(arrows_df).mark_rule(color=GREY, strokeWidth=1.5).encode(x=X, y=Y, y2="y2:Q")
head_up = alt.Chart(arrows_df.iloc[[0]]).mark_point(shape="M-1,1.3L0,0L1,1.3", filled=False, size=100,
                                                   color=GREY, strokeWidth=1.5, opacity=1).encode(
    x=X, y=alt.Y("y2:Q", scale=yscale, axis=y_axis),
)
head_down = alt.Chart(arrows_df.iloc[[1]]).mark_point(shape="M-1,-1.3L0,0L1,-1.3", filled=False, size=100,
                                                     color=GREY, strokeWidth=1.5, opacity=1).encode(
    x=X, y=alt.Y("y2:Q", scale=yscale, axis=y_axis),
)

source_df = pd.DataFrame({"t": [source_text]})
source = alt.Chart(source_df).mark_text(font="Liberation Sans", fontSize=12.5, color=GREY, align="right",
                                        baseline="middle").encode(
    x=alt.value(1126), y=alt.value(669), text="t:N"
)

chart = alt.layer(points, zero_line, band, fit_line, shafts, head_up, head_down, notes, source).properties(
    width=1128, height=592,
    padding={"left": 92, "top": 0, "right": 4, "bottom": 83},
    autosize=alt.AutoSizeParams(type="none"),
).configure_view(stroke=None).configure_axis(
    grid=False, domain=False, ticks=False,
    labelFont="Liberation Sans", labelFontSize=16, labelColor=GREY,
    titleFont="Liberation Sans", titleFontSize=18, titleFontWeight="bold", titleColor="#8a8a8a",
)

chart.save("out.html", embed_options={"renderer": "svg", "actions": False})
